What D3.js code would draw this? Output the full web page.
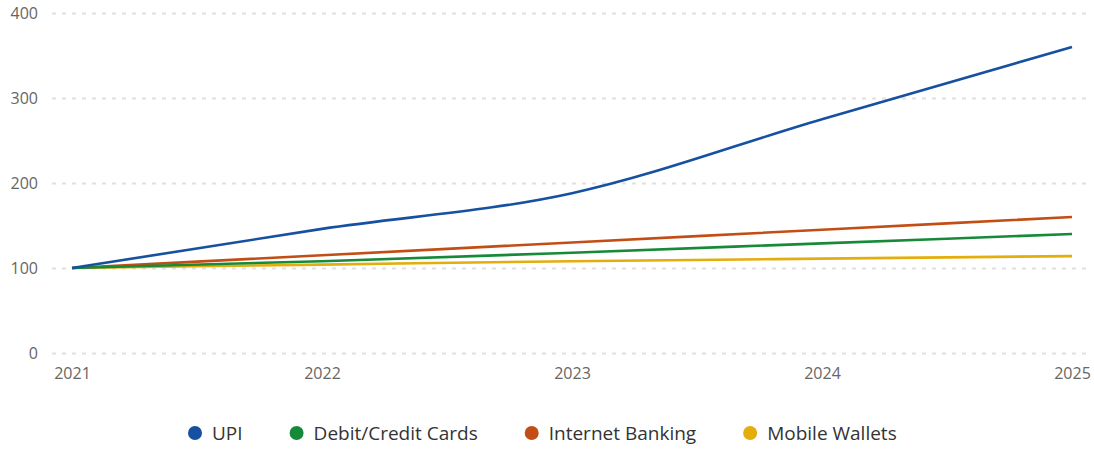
<!DOCTYPE html>
<html>
<head>
<meta charset="utf-8">
<script src="https://cdn.jsdelivr.net/npm/d3@7"></script>
<style>
body{margin:0;background:#fff;font-family:"Open Sans","Noto Sans",sans-serif;}
</style>
</head>
<body>
<div id="wrapper"></div>
<script>
// Data
const years = [2021, 2022, 2023, 2024, 2025];
const upi = [100, 146, 188, 275, 360];
const cards = [100, 108, 118, 129, 140];
const banking = [100, 115, 130, 145, 160];
const wallets = [100, 104, 108, 111, 114];
const yTicks = [0, 100, 200, 300, 400];

const series = [
  {name: "UPI", values: upi, color: "#1650a0"},
  {name: "Debit/Credit Cards", values: cards, color: "#178a3a"},
  {name: "Internet Banking", values: banking, color: "#c24e16"},
  {name: "Mobile Wallets", values: wallets, color: "#e3ad0c"}
];

// Dimension
const dimension = {
  width: 1094, height: 449,
  margin: {top: 13, bottom: 96, left: 72, right: 22}
};
dimension.boundedWidth = dimension.width - dimension.margin.left - dimension.margin.right;
dimension.boundedHeight = dimension.height - dimension.margin.top - dimension.margin.bottom;

// Scales
const xScale = d3.scaleLinear().domain(d3.extent(years)).range([0, dimension.boundedWidth]);
const yScale = d3.scaleLinear().domain([0, 400]).range([dimension.boundedHeight, 0]);

// Canvas
const wrapper = d3.select("#wrapper").append("svg")
  .attr("width", dimension.width).attr("height", dimension.height);
const bounded = wrapper.append("g")
  .attr("transform", `translate(${dimension.margin.left},${dimension.margin.top})`);

// y grid + labels
const yAxis = bounded.append("g")
  .call(d3.axisLeft(yScale).tickValues(yTicks).tickSize(0).tickPadding(34))
  .call(g => g.select(".domain").remove());
yAxis.selectAll(".tick line")
  .attr("x1", -20).attr("x2", dimension.boundedWidth + 18)
  .attr("stroke", "#e0e0e0").attr("stroke-width", 2).attr("stroke-dasharray", "4,6");
yAxis.selectAll("text").attr("font-size", 16).attr("fill", "#666")
  .attr("font-family", "'Open Sans', sans-serif");

// x axis
const xAxis = bounded.append("g")
  .attr("transform", `translate(0,${dimension.boundedHeight})`)
  .call(d3.axisBottom(xScale).tickValues(years).tickFormat(d3.format("d")).tickSize(0).tickPadding(15))
  .call(g => g.select(".domain").remove());
xAxis.selectAll("text").attr("font-size", 16).attr("fill", "#666")
  .attr("font-family", "'Open Sans', sans-serif");

// Lines
const lineGen = d3.line()
  .x((d, i) => xScale(years[i]))
  .y(d => yScale(d))
  .curve(d3.curveMonotoneX);

bounded.selectAll("path.series")
  .data(series.slice().reverse()).enter().append("path")
  .attr("class", "series")
  .attr("d", d => lineGen(d.values))
  .attr("fill", "none").attr("stroke", d => d.color)
  .attr("stroke-width", 2.6).attr("stroke-linecap", "butt");

// Legend
const legend = wrapper.append("g").attr("transform", "translate(0,433)");
let lx = 195;
series.forEach(s => {
  legend.append("circle").attr("cx", lx).attr("cy", 0).attr("r", 7).attr("fill", s.color);
  const t = legend.append("text").attr("x", lx + 17).attr("y", 0).attr("dy", "0.35em")
    .attr("font-size", 19).attr("fill", "#333")
    .attr("font-family", "'Open Sans', sans-serif")
    .text(s.name);
  lx += 17 + t.node().getComputedTextLength() + 54;
});
</script>
</body>
</html>
